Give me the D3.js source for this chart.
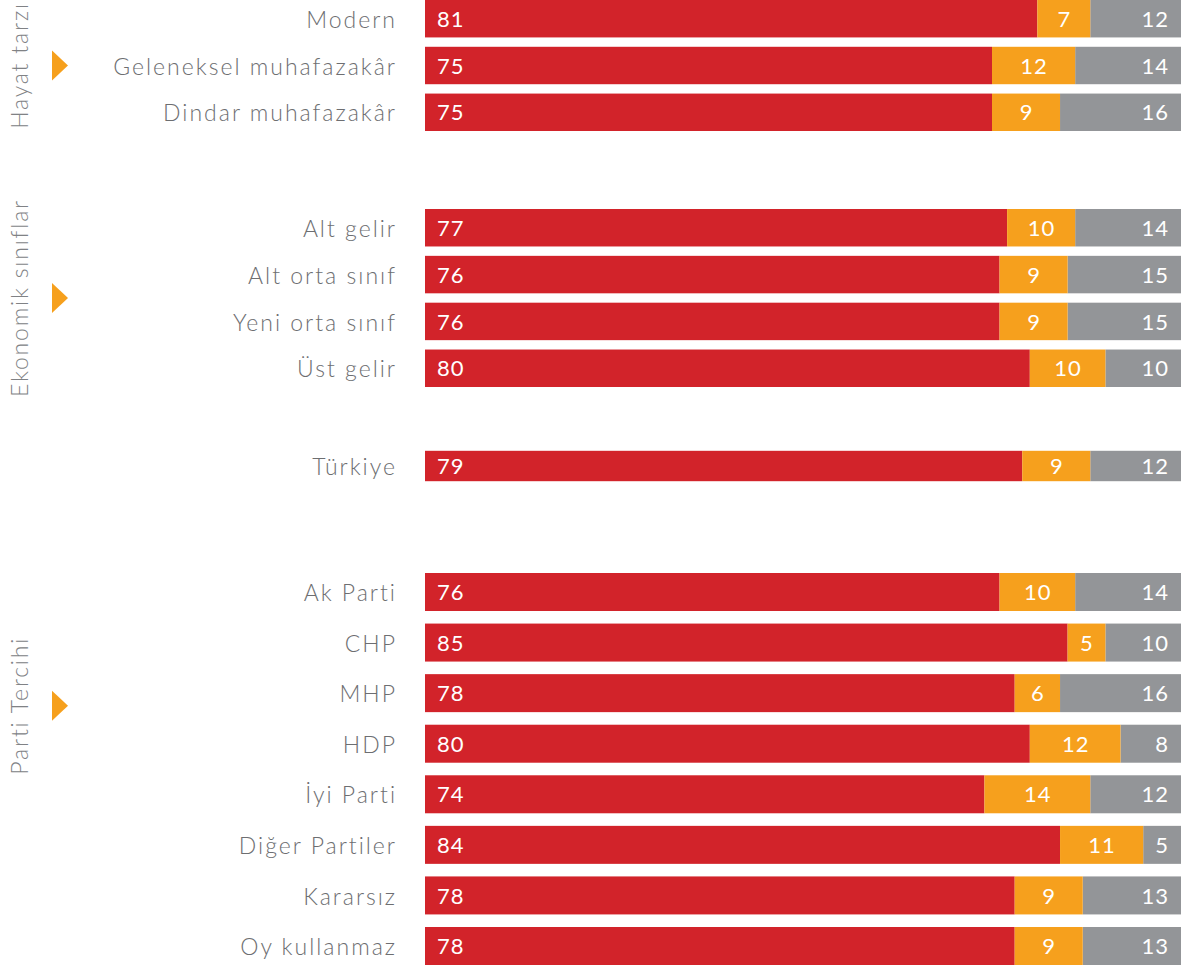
<!DOCTYPE html>
<html>
<head>
<meta charset="utf-8">
<script src="https://cdn.jsdelivr.net/npm/d3@7"></script>
<style>
  html, body { margin: 0; padding: 0; background: #fff; }
  svg { display: block; }
  text { font-family: Lato, "Open Sans", sans-serif; }
</style>
</head>
<body>
<svg id="chart" width="1185" height="970"></svg>
<script>
// ---- Data ----
const groupNames = ["Hayat tarzı", "Ekonomik sınıflar", "", "Parti Tercihi"];
const groupSizes = [3, 4, 1, 8];
const categories = [
  "Modern", "Geleneksel muhafazakâr", "Dindar muhafazakâr",
  "Alt gelir", "Alt orta sınıf", "Yeni orta sınıf", "Üst gelir",
  "Türkiye",
  "Ak Parti", "CHP", "MHP", "HDP", "İyi Parti", "Diğer Partiler", "Kararsız", "Oy kullanmaz"
];
const redValues    = [81, 75, 75, 77, 76, 76, 80, 79, 76, 85, 78, 80, 74, 84, 78, 78];
const orangeValues = [7, 12, 9, 10, 9, 9, 10, 9, 10, 5, 6, 12, 14, 11, 9, 9];
const grayValues   = [12, 14, 16, 14, 15, 15, 10, 12, 14, 10, 16, 8, 12, 5, 13, 13];

// ---- Layout ----
const groupRanges = [[0, 131], [209, 387], [447, 485], [573, 965]];
const groupPadding = [0.2, 0.2, 0.2, 0.2486];
const groupLabelRow = [1, 1.5, 0, 2.25];
const colors = { red: "#d2232a", orange: "#f6a01d", gray: "#939598" };

const svg = d3.select("#chart");
const x = d3.scaleLinear().domain([0, 100]).range([425, 1181]);

let idx = 0;
groupSizes.forEach((n, g) => {
  const rows = d3.range(idx, idx + n);
  idx += n;
  const y = d3.scaleBand().domain(rows).range(groupRanges[g]).paddingInner(groupPadding[g]).paddingOuter(0);
  const bw = y.bandwidth();

  const row = svg.append("g").selectAll("g").data(rows).join("g");

  // category labels
  row.append("text")
    .attr("x", 397)
    .attr("y", i => y(i) + bw / 2)
    .attr("dy", "0.4em")
    .attr("text-anchor", "end")
    .attr("font-size", 23)
    .attr("font-weight", 300)
    .attr("letter-spacing", "2px")
    .attr("fill", "#6d6e71")
    .text(i => categories[i]);

  // red segment (from 0)
  row.append("rect")
    .attr("x", x(0))
    .attr("y", i => y(i))
    .attr("width", i => x(redValues[i]) - x(0))
    .attr("height", bw)
    .attr("fill", colors.red);
  // gray segment (anchored at 100)
  row.append("rect")
    .attr("x", i => x(100 - grayValues[i]))
    .attr("y", i => y(i))
    .attr("width", i => x(100) - x(100 - grayValues[i]))
    .attr("height", bw)
    .attr("fill", colors.gray);
  // orange segment (between)
  row.append("rect")
    .attr("x", i => x(redValues[i]))
    .attr("y", i => y(i))
    .attr("width", i => x(100 - grayValues[i]) - x(redValues[i]))
    .attr("height", bw)
    .attr("fill", colors.orange);

  const numStyle = sel => sel.attr("font-size", 22).attr("fill", "#fff").attr("dy", "0.37em")
    .attr("letter-spacing", "1px")
    .attr("y", i => y(i) + bw / 2);

  row.append("text").call(numStyle)
    .attr("x", x(0) + 12)
    .attr("text-anchor", "start")
    .text(i => redValues[i]);
  row.append("text").call(numStyle)
    .attr("x", i => (x(redValues[i]) + x(100 - grayValues[i])) / 2 + 0.5)
    .attr("text-anchor", "middle")
    .text(i => orangeValues[i]);
  row.append("text").call(numStyle)
    .attr("x", x(100) - 12)
    .attr("text-anchor", "end")
    .text(i => grayValues[i]);

  // group label and marker
  if (groupNames[g]) {
    const cy = y(rows[0]) + bw / 2 + groupLabelRow[g] * y.step();
    svg.append("text")
      .attr("transform", `translate(28,${cy}) rotate(-90)`)
      .attr("text-anchor", "middle")
      .attr("font-size", 23)
      .attr("font-weight", 300)
      .attr("letter-spacing", "1.8px")
      .attr("fill", "#808285")
      .text(groupNames[g]);
    svg.append("path")
      .attr("d", d3.line()([[52, cy - 15], [68, cy], [52, cy + 15]]) + "Z")
      .attr("fill", colors.orange);
  }
});
</script>
</body>
</html>
